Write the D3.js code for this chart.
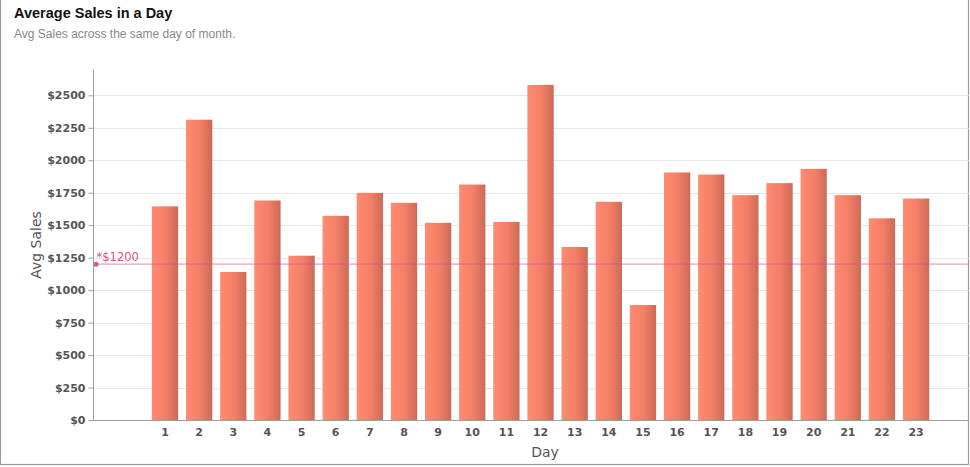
<!DOCTYPE html>
<html><head><meta charset="utf-8">
<script src="https://cdn.jsdelivr.net/npm/d3@7"></script>
<style>
html,body{margin:0;padding:0;background:#fff;}
svg{display:block;}
</style></head>
<body>
<svg id="chart" width="970" height="467"></svg>
<script>
const days = ["1","2","3","4","5","6","7","8","9","10","11","12","13","14","15","16","17","18","19","20","21","22","23"];
const avgSales = [1645,2312,1140,1690,1265,1572,1749,1672,1518,1813,1525,2580,1332,1680,885,1906,1890,1731,1824,1934,1731,1553,1705];
const yTicks = [0,250,500,750,1000,1250,1500,1750,2000,2250,2500];
const refValue = 1200;
const refLabel = "*$1200";
const title = "Average Sales in a Day";
const subtitle = "Avg Sales across the same day of month.";
const xTitle = "Day";
const yTitle = "Avg Sales";

const svg = d3.select("#chart");
const W = 970, H = 467;
const x0 = 93, x1 = 969, yBase = 420;

// frame
svg.append("rect").attr("x",0.5).attr("y",-2).attr("width",968).attr("height",466.5)
  .attr("fill","none").attr("stroke","#9a9a9a").attr("stroke-width",1.2);

const y = d3.scaleLinear().domain([0,2700]).range([yBase, yBase-2700*0.12988]);
const step = 34.14;
const x = d3.scaleBand().domain(days)
  .range([165 - step/2, 165 - step/2 + step*days.length])
  .paddingInner(0.23).paddingOuter(0.115);

const defs = svg.append("defs");
const g = defs.append("linearGradient").attr("id","barGrad").attr("x1","0").attr("x2","1").attr("y1","0").attr("y2","0");
g.append("stop").attr("offset","0%").attr("stop-color","#ff8b72");
g.append("stop").attr("offset","55%").attr("stop-color","#f27e66");
g.append("stop").attr("offset","100%").attr("stop-color","#cc6a57");

// gridlines
svg.append("g").selectAll("line").data(yTicks.filter(d=>d>0)).join("line")
  .attr("x1",x0).attr("x2",x1).attr("y1",d=>Math.round(y(d))+0.5).attr("y2",d=>Math.round(y(d))+0.5)
  .attr("stroke","#e6e6e6").attr("stroke-width",1);

// bars
svg.append("g").selectAll("rect").data(days).join("rect")
  .attr("x",(d)=>x(d)).attr("width",x.bandwidth())
  .attr("y",(d,i)=>y(avgSales[i])).attr("height",(d,i)=>yBase-y(avgSales[i]))
  .attr("fill","url(#barGrad)");

// reference line
svg.append("line").attr("x1",x0).attr("x2",x1).attr("y1",y(refValue)).attr("y2",y(refValue))
  .attr("stroke","#d9558c").attr("stroke-opacity",0.55).attr("stroke-width",1.2);
svg.append("circle").attr("cx",x0+3).attr("cy",y(refValue)).attr("r",2.5).attr("fill","#d9558c");
svg.append("text").attr("x",x0+3.5).attr("y",y(refValue)-3).text(refLabel)
  .attr("font-family","Verdana, 'DejaVu Sans', sans-serif").attr("font-size",11.5).attr("fill","#d9558c");

// y axis
const yAxis = d3.axisLeft(y).tickValues(yTicks).tickSize(5).tickPadding(3).tickFormat(d=>"$"+d);
const ya = svg.append("g").attr("transform",`translate(${x0+0.5},0)`).call(yAxis);
ya.select(".domain").attr("d",`M0,${y(2700)}V${yBase}`).attr("stroke","#a0a0a0");
ya.selectAll(".tick line").attr("stroke","#a0a0a0");
ya.selectAll(".tick text").attr("font-family","'DejaVu Sans', Verdana, sans-serif").attr("font-weight","bold")
  .attr("font-size",11).attr("fill","#555");

// x axis
const xAxis = d3.axisBottom(x).tickSize(0).tickPadding(8);
const xa = svg.append("g").attr("transform",`translate(0,${yBase+0.5})`).call(xAxis);
xa.select(".domain").attr("d",`M${x0},0H${x1}`).attr("stroke","#a0a0a0");
xa.selectAll(".tick text").attr("font-family","'DejaVu Sans', Verdana, sans-serif").attr("font-weight","bold")
  .attr("font-size",11).attr("fill","#555");

// axis titles
svg.append("text").attr("x",545).attr("y",457).attr("text-anchor","middle").text(xTitle)
  .attr("font-family","'DejaVu Sans', Verdana, sans-serif").attr("font-size",14).attr("fill","#555");
svg.append("text").attr("transform","translate(41,245) rotate(-90)").attr("text-anchor","middle").text(yTitle)
  .attr("font-family","'DejaVu Sans', Verdana, sans-serif").attr("font-size",14).attr("fill","#555");

// titles
svg.append("text").attr("x",14).attr("y",18).text(title)
  .attr("font-family","'Liberation Sans', Arial, sans-serif").attr("font-weight","bold").attr("font-size",14.5).attr("fill","#111");
svg.append("text").attr("x",14).attr("y",38).text(subtitle)
  .attr("font-family","'Liberation Sans', Arial, sans-serif").attr("font-size",12).attr("fill","#888");
</script>
</body></html>
